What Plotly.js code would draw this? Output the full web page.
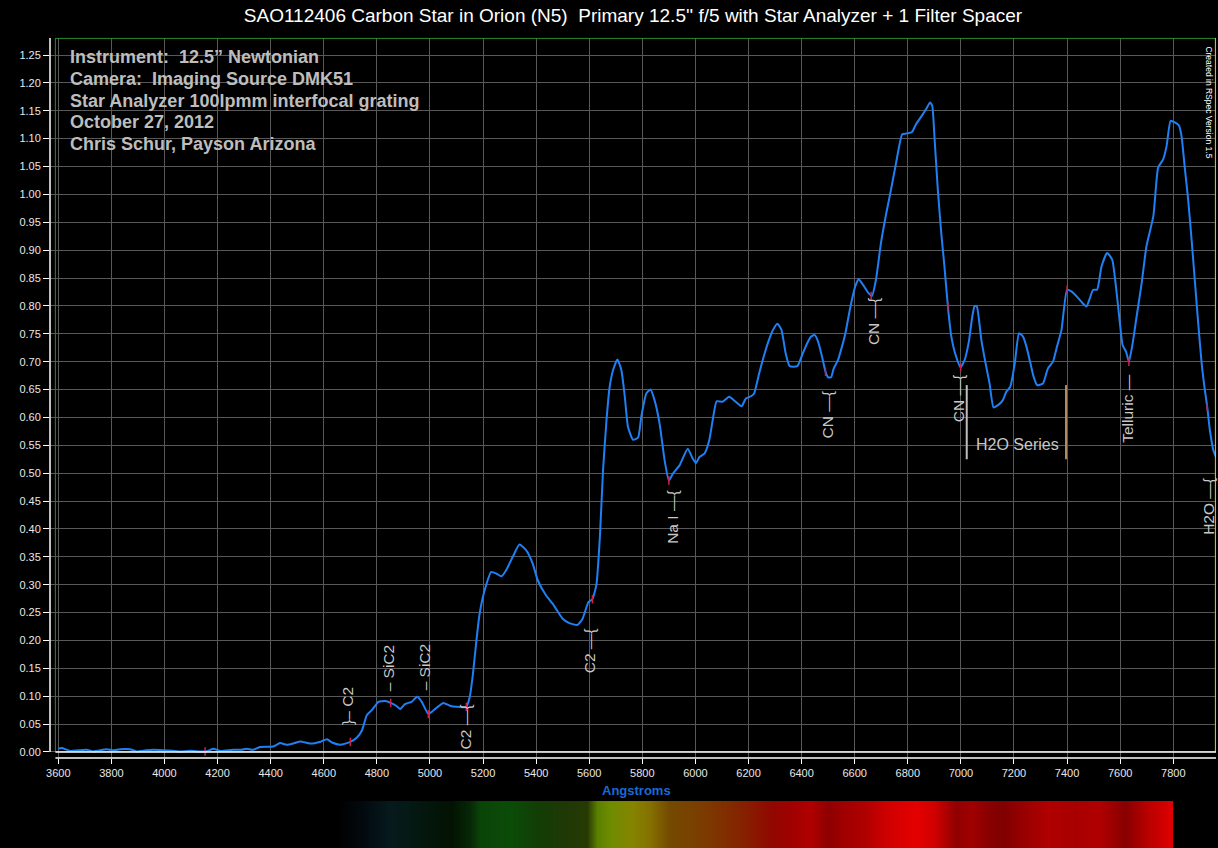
<!DOCTYPE html>
<html><head><meta charset="utf-8">
<script src="https://cdn.plot.ly/plotly-3.0.1.min.js"></script>
<style>html,body{margin:0;padding:0;background:#000;} #chart{width:1218px;height:848px;}</style>
</head><body><div id="chart"></div>
<script>
// Spectrum (wavelength in Angstroms, relative flux)
const wavelength = [3600,3613,3644,3675,3707,3732,3782,3807,3832,3870,3895,3930,3958,3996,4030,4058,4096,4146,4165,4184,4209,4259,4290,4309,4334,4359,4410,4435,4460,4490,
4512,4550,4588,4612,4631,4662,4700,4725,4744,4762,4781,4806,4831,4852,4875,4888,4906,4931,4952,4969,4994,5012,5050,5075,5100,5137,5150,5162,5175,5187,
5206,5231,5250,5269,5287,5312,5337,5362,5387,5406,5437,5462,5500,5525,5556,5575,5597,5612,5627,5640,5652,5665,5677,5690,5706,5721,5734,5746,5765,5784,
5796,5815,5831,5846,5865,5884,5900,5915,5940,5971,5990,6002,6015,6034,6052,6065,6080,6102,6127,6152,6174,6190,6209,6221,6240,6259,6277,6292,6309,6324,
6340,6355,6384,6402,6421,6436,6449,6462,6477,6490,6500,6511,6521,6537,6552,6565,6584,6602,6615,6634,6652,6665,6680,6699,6718,6737,6756,6779,6794,6816,
6831,6850,6869,6884,6892,6901,6913,6926,6938,6951,6964,6982,6999,7014,7030,7043,7052,7060,7077,7093,7108,7123,7140,7158,7171,7186,7203,7219,7234,7247,
7262,7274,7287,7309,7328,7347,7362,7379,7400,7416,7442,7458,7473,7486,7498,7513,7530,7551,7570,7584,7599,7609,7622,7633,7647,7662,7681,7699,7725,7743,
7762,7775,7790,7806,7821,7831,7844,7856,7869,7882,7894,7907,7919,7928,7938,7951,7963];
const flux = [0.006,0.007,0.002,0.003,0.004,0.001,0.005,0.003,0.005,0.005,0.001,0.003,0.004,0.003,0.002,0.001,0.002,0.001,0.002,0.006,0.002,0.004,0.004,0.006,0.004,0.009,0.010,0.016,0.013,0.016,
0.019,0.015,0.0185,0.023,0.017,0.013,0.018,0.026,0.039,0.066,0.075,0.090,0.0915,0.088,0.082,0.077,0.086,0.090,0.099,0.090,0.068,0.074,0.088,0.083,0.081,0.081,0.099,0.14,0.20,0.248,
0.29,0.323,0.32,0.315,0.326,0.35,0.372,0.362,0.338,0.308,0.281,0.266,0.239,0.231,0.228,0.239,0.269,0.274,0.300,0.385,0.505,0.595,0.655,0.685,0.704,0.685,0.637,0.583,0.560,0.564,
0.601,0.643,0.650,0.631,0.589,0.523,0.487,0.499,0.514,0.544,0.526,0.518,0.529,0.535,0.559,0.595,0.629,0.628,0.637,0.628,0.620,0.634,0.638,0.643,0.679,0.712,0.739,0.757,0.768,0.757,
0.715,0.692,0.692,0.712,0.733,0.745,0.748,0.736,0.709,0.682,0.672,0.672,0.688,0.703,0.727,0.751,0.799,0.835,0.848,0.836,0.823,0.818,0.847,0.913,0.964,1.009,1.057,1.108,1.109,1.112,
1.126,1.139,1.153,1.165,1.159,1.099,1.009,0.931,0.871,0.799,0.745,0.709,0.690,0.703,0.736,0.781,0.800,0.799,0.739,0.697,0.661,0.618,0.622,0.631,0.646,0.655,0.697,0.751,0.745,0.727,
0.697,0.673,0.658,0.661,0.688,0.700,0.727,0.757,0.829,0.826,0.814,0.805,0.799,0.814,0.829,0.829,0.871,0.895,0.883,0.835,0.769,0.730,0.718,0.700,0.733,0.781,0.841,0.907,0.961,1.048,
1.063,1.087,1.132,1.129,1.124,1.105,1.045,0.991,0.919,0.841,0.769,0.697,0.649,0.619,0.577,0.541,0.526];

// Red line-position marks on the curve
const markWavelength = [4153,4700,4852,4994,5137,5612,5900,6490,6662,6951,6999,7400,7633,7928];
const markFlux = [0.001,0.018,0.088,0.068,0.081,0.274,0.487,0.682,0.818,0.799,0.690,0.829,0.700,0.619];

// Line identification labels
const lineLabels = ["}\u2013 C2","\u2013 SiC2","\u2013 SiC2","C2 \u2014{","C2 \u2014{","Na I \u2014{","CN \u2014{","CN \u2014{","CN \u2014{","Telluric \u2014","H2O \u2014{"];
const lineLabelWavelength = [4692,4842,4978,5134,5600,5914,6499,6669,6990,7629,7930];
const lineLabelFlux = [0.083,0.150,0.152,0.045,0.181,0.421,0.605,0.771,0.633,0.617,0.441];

// H2O series bracket
const h2oSeriesBounds = [7022,7396];
const h2oSeriesFlux = [0.525,0.658];

// Synthetic colour strip under the axis
const bandWavelength = [3570,4650,4760,4850,4950,5080,5150,5190,5300,5400,5500,5590,5630,5680,5760,5830,5900,6000,6100,6200,6280,6360,6430,6500,6560,6640,6720,6830,6900,6980,7040,7100,7160,7240,7330,7430,7520,7620,7700,7780,7795,7798,7961];
const bandColor = ["#000000","#000000","#030b10","#061a1e","#041810","#031203","#062806","#0a4408","#0b4c08","#123e06","#1e3806","#283a04","#5a8000","#6f8c00","#858400","#857000","#744a00","#7a4000","#803000","#881c00","#900800","#a00000","#b00000","#8e0000","#a00000","#b00000","#d00000","#e40000","#d00000","#900000","#a00000","#8a0000","#800000","#9a0000","#b00000","#a80000","#b00000","#880000","#b80000","#d80000","#e00000","#000000","#000000"];

const xTicks = [3600,3800,4000,4200,4400,4600,4800,5000,5200,5400,5600,5800,6000,6200,6400,6600,6800,7000,7200,7400,7600,7800];

const infoLines = ["Instrument:\u00a0 12.5\u201d Newtonian","Camera:\u00a0 Imaging Source DMK51","Star Analyzer 100lpmm interfocal grating","October 27, 2012","Chris Schur, Payson Arizona"];

const XR = [3568.7, 7961];
const YR = [-0.0108, 1.2805];
const FONT = "Arial, 'Liberation Sans', sans-serif";

const nB = bandColor.length;
const bandIdx = bandWavelength.map((w,i)=>i);

const traces = [
  {type:'scatter', mode:'lines', x:wavelength, y:flux, line:{color:'#1f80f5', width:2, shape:'spline', smoothing:0.5}, hoverinfo:'skip', xaxis:'x', yaxis:'y'},
  {type:'scatter', mode:'markers', x:markWavelength, y:markFlux, marker:{symbol:'line-ns', size:6, line:{color:'#d0204a', width:1.5}}, hoverinfo:'skip', xaxis:'x', yaxis:'y'},
  {type:'heatmap', x:bandWavelength, y:[0,1], z:[bandIdx,bandIdx], zmin:0, zmax:nB-1, zsmooth:'best', showscale:false,
   colorscale: bandColor.map((c,i)=>[i/(nB-1), c]), hoverinfo:'skip', xaxis:'x2', yaxis:'y2'}
];

const annotations = [];
lineLabels.forEach((t,i)=>annotations.push({text:t, x:lineLabelWavelength[i], y:lineLabelFlux[i], xref:'x', yref:'y', textangle:-90, showarrow:false, xanchor:'center', yanchor:'middle', font:{family:FONT, size:15.5, color:'#c8c8c8'}}));
annotations.push({text:'H2O Series', x:(h2oSeriesBounds[0]+h2oSeriesBounds[1])/2 + 6, y:0.552, xref:'x', yref:'y', showarrow:false, font:{family:FONT, size:16, color:'#c8c8c8'}});
infoLines.forEach((s,i)=>annotations.push({text:'<b>'+s+'</b>', x:0.0154, y:1.268, yshift:-21.8*i, xref:'paper', yref:'y', xanchor:'left', yanchor:'top', align:'left', showarrow:false, font:{family:FONT, size:18, color:'#bdbdbd'}}));
annotations.push({text:'Created in RSpec Version 1.5', x:0.994, y:1.165, xref:'paper', yref:'y', textangle:90, showarrow:false, xanchor:'center', yanchor:'middle', font:{family:FONT, size:8.5, color:'#ffffff'}});
annotations.push({text:'<b>Angstroms</b>', x:0.5026, y:0.0704, xref:'paper', yref:'paper', showarrow:false, xanchor:'center', yanchor:'middle', font:{family:FONT, size:13, color:'#1a6ad6'}});

const shapes = [
  // green frame (left, top) and yellow right edge
  {type:'line', xref:'x', yref:'y', x0:3589, x1:3589, y0:0, y1:YR[1], line:{color:'#2a8a2a', width:1}},
  {type:'line', xref:'x', yref:'paper', x0:3589, x1:XR[1], y0:0.9995, y1:0.9995, line:{color:'#2a8a2a', width:1}},
  {type:'line', xref:'paper', yref:'y', x0:0.9995, x1:0.9995, y0:0, y1:YR[1], line:{color:'#d8d800', width:1}},
  // white axis lines
  {type:'line', xref:'paper', yref:'y', x0:0, x1:0, y0:0, y1:YR[1], line:{color:'#ffffff', width:1.5}},
  {type:'line', xref:'x', yref:'y', x0:3589, x1:XR[1], y0:0, y1:0, line:{color:'#ffffff', width:1.5}},
  {type:'line', xref:'x', yref:'paper', x0:3589, x1:XR[1], y0:0.1111, y1:0.1111, line:{color:'#ffffff', width:1.5}},
  // H2O series bracket lines
  {type:'line', xref:'x', yref:'y', x0:h2oSeriesBounds[0], x1:h2oSeriesBounds[0], y0:h2oSeriesFlux[0], y1:h2oSeriesFlux[1], line:{color:'#bdbdbd', width:2}},
  {type:'line', xref:'x', yref:'y', x0:h2oSeriesBounds[1], x1:h2oSeriesBounds[1], y0:h2oSeriesFlux[0], y1:h2oSeriesFlux[1], line:{color:'#b08a60', width:2}}
];

const layout = {
  width:1218, height:848,
  margin:{l:50, r:2, t:38, b:0},
  paper_bgcolor:'#000000', plot_bgcolor:'#000000',
  showlegend:false, hovermode:false,
  title:{text:'SAO112406 Carbon Star in Orion (N5)\u00a0 Primary 12.5\'\' f/5 with Star Analyzer + 1 Filter Spacer', font:{family:FONT, size:19, color:'#ffffff'}, x:0.5, xref:'paper', y:0.9823, yref:'container', yanchor:'middle'},
  xaxis:{domain:[0,1], anchor:'y', range:XR, tickmode:'array', tickvals:xTicks, ticktext:xTicks.map(String), ticks:'outside', ticklen:5, tickcolor:'#ffffff', tickwidth:1,
         showgrid:true, gridcolor:'#585858', gridwidth:1, zeroline:false, showline:false, tickfont:{family:FONT, size:11, color:'#e8e8e8'}, fixedrange:true},
  yaxis:{domain:[0.1111,1], anchor:'x', range:YR, tick0:0, dtick:0.05, tickformat:'.2f', ticks:'outside', ticklen:6, tickcolor:'#ffffff', tickwidth:1,
         showgrid:true, gridcolor:'#585858', gridwidth:1, zeroline:false, showline:false, tickfont:{family:FONT, size:11, color:'#e8e8e8'}, fixedrange:true},
  xaxis2:{domain:[0,1], anchor:'y2', range:XR, visible:false, fixedrange:true},
  yaxis2:{domain:[0,0.058], anchor:'x2', range:[0,1], visible:false, fixedrange:true},
  annotations:annotations,
  shapes:shapes
};

Plotly.newPlot('chart', traces, layout, {displayModeBar:false, staticPlot:true});
</script></body></html>
